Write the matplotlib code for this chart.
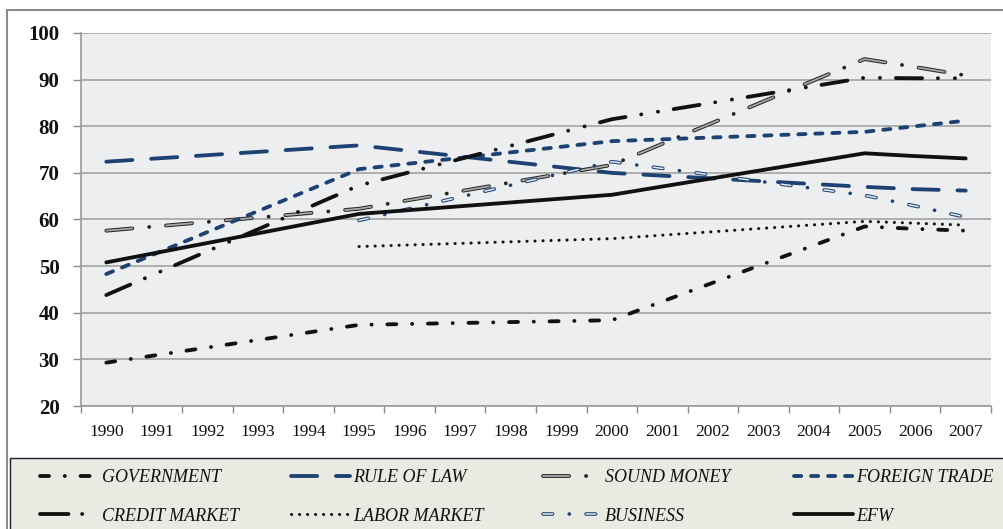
import numpy as np
import matplotlib
matplotlib.use("Agg")
import matplotlib.pyplot as plt
from matplotlib.patches import Rectangle
from matplotlib.lines import Line2D

# ---------------- data ----------------
years = [str(y) for y in range(1990, 2008)]
N = None
government    = [29.3, N, N, N, N, 37.4, N, N, N, N, 38.4, N, N, N, N, 58.5, 58.0, 57.6]
rule_of_law   = [72.4, N, N, N, N, 75.9, N, N, N, N, 70.0, N, N, N, N, 67.0, 66.5, 66.2]
sound_money   = [57.6, N, N, N, N, 62.3, N, N, N, N, 71.7, N, N, N, N, 94.4, 92.7, 90.9]
foreign_trade = [48.3, N, N, N, N, 70.8, N, N, N, N, 76.8, N, N, N, N, 78.8, 80.0, 81.2]
credit_market = [43.8, N, N, N, N, 67.3, N, N, N, N, 81.5, N, N, N, N, 90.4, 90.3, 90.3]
labor_market  = [N, N, N, N, N, 54.2, N, N, N, N, 55.9, N, N, N, N, 59.6, 59.2, 58.8]
business      = [N, N, N, N, N, 59.8, N, N, N, N, 72.4, N, N, N, N, 65.2, 62.9, 60.5]
efw           = [50.8, N, N, N, N, 61.2, N, N, N, N, 65.3, N, N, N, N, 74.2, 73.6, 73.1]

labels = ["GOVERNMENT", "RULE OF LAW", "SOUND MONEY", "FOREIGN TRADE",
          "CREDIT MARKET", "LABOR MARKET", "BUSINESS", "EFW"]
y_ticks = list(range(20, 101, 10))

# ---------------- style ----------------
plt.rcParams['lines.scale_dashes'] = False
plt.rcParams['font.family'] = ['Liberation Serif', 'DejaVu Serif']

W, H = 1004, 529
fig = plt.figure(figsize=(W / 100, H / 100), dpi=100)
fig.patch.set_facecolor('white')

def fx(px):
    return px / W

def fy(py):
    return 1 - py / H

BLACK = '#111111'
BLUE = '#1d4272'
LW = 2.75

ax = fig.add_axes([fx(81), fy(406), fx(991) - fx(81), fy(33) - fy(406)])
ax.set_facecolor('#EDEEF0')
x = np.arange(len(years))
ax.set_xlim(-0.5, len(years) - 0.5)
ax.set_ylim(20, 100)
ax.set_yticks(y_ticks)
ax.yaxis.grid(True, color='#A3A3A3', lw=1.2)
ax.set_axisbelow(True)

ax.set_xticks(np.arange(-0.5, len(years), 1.0))
ax.set_xticks(x, minor=True)
ax.set_xticklabels(years, minor=True)
ax.tick_params(axis='x', which='major', length=5, color='#8a8a8a', width=1, labelbottom=False)
ax.tick_params(axis='x', which='minor', length=0, pad=13, labelsize=12.5, labelcolor='#111111')
ax.tick_params(axis='y', length=6, color='#8a8a8a', width=1, pad=9.5, labelsize=15, labelcolor='#111111')
for t in ax.get_yticklabels():
    t.set_fontweight('bold')
for s in ['top', 'right']:
    ax.spines[s].set_visible(False)
for s in ['left', 'bottom']:
    ax.spines[s].set_color('#9a9a9a')
    ax.spines[s].set_linewidth(1.2)


def draw(vals, **kw):
    v = np.array([np.nan if a is None else a for a in vals], dtype=float)
    m = ~np.isnan(v)
    return ax.plot(x[m], v[m], dash_capstyle='round', solid_capstyle='round',
                   solid_joinstyle='round', **kw)[0]

h_gov = draw(government, color=BLACK, lw=LW, ls=(0, (6.5, 11.3, 0.1, 11.3)))
h_rule = draw(rule_of_law, color=BLUE, lw=LW, ls=(0, (18.85, 13.5)))
h_sm_o = draw(sound_money, color='#262626', lw=LW, ls=(0, (18.85, 12.1, 0.1, 12.1)))
h_sm_i = draw(sound_money, color='#A8A8A8', lw=1.3, ls=(0, (18.85, 24.3)))
h_ft = draw(foreign_trade, color=BLUE, lw=LW, ls=(0, (5.2, 7.05)))
h_cm = draw(credit_market, color=BLACK, lw=LW, ls=(0, (18.85, 11.4, 0.1, 12.1, 0.1, 11.4)))
h_lm = draw(labor_market, color=BLACK, lw=2.2, ls=(0, (0.1, 5.66)))
h_bu_o = draw(business, color=BLUE, lw=2.6, ls=(0, (6.9, 12.0, 0.1, 12.0)))
h_bu_i = draw(business, color='#E2EAF4', lw=1.1, ls=(0, (6.9, 24.1)))
h_efw = draw(efw, color=BLACK, lw=LW)

# legend proxy for the credit-market key (shows dash + one dot as in the original key)
h_cm_key = Line2D([], [], color=BLACK, lw=LW, ls=(0, (20.5, 9.8, 0.1, 40)),
                  dash_capstyle='round')

# ---------------- frame & legend box ----------------
fig.add_artist(Rectangle((fx(7.5), -0.2), 1.2, fy(10) + 0.2, transform=fig.transFigure,
                         fill=False, edgecolor='#8c8c8c', lw=1.5, zorder=0))
fig.add_artist(Rectangle((fx(9.5), -0.2), 1.2, fy(458) + 0.2, transform=fig.transFigure,
                         facecolor='#E9EAE2', edgecolor='#1c1c2c', lw=1.0, zorder=1))

handles = [h_gov, h_rule, (h_sm_o, h_sm_i), h_ft, h_cm_key, h_lm, (h_bu_o, h_bu_i), h_efw]
col_x = [40, 291, 543, 794]
for c in range(4):
    leg = fig.legend([handles[c], handles[c + 4]], [labels[c], labels[c + 4]],
                     loc='upper left', bbox_to_anchor=(fx(col_x[c]), fy(469)),
                     frameon=False, borderpad=0, borderaxespad=0,
                     handlelength=3.25, handletextpad=0.2, labelspacing=1.2,
                     prop={'family': 'Liberation Serif', 'style': 'italic', 'size': 13})
    leg.set_zorder(5)
    for t in leg.get_texts():
        t.set_color('#111111')

fig.savefig('out.png', dpi=100)
